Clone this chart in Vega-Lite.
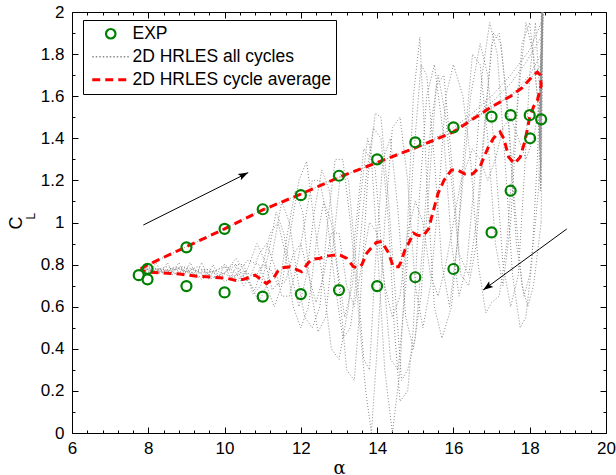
{
  "$schema": "https://vega.github.io/schema/vega-lite/v6.json",
  "width": 534,
  "height": 421,
  "autosize": "none",
  "padding": {"left": 72, "top": 12, "right": 10, "bottom": 42},
  "background": "white",
  "config": {
    "view": {"stroke": "black", "strokeWidth": 1},
    "font": "Liberation Sans",
    "axis": {
      "domain": false, "grid": false,
      "labelFont": "Liberation Sans", "labelFontSize": 17, "labelColor": "black",
      "tickColor": "black", "tickWidth": 1,
      "titleFont": "Liberation Sans", "titleFontSize": 18, "titleFontWeight": "normal", "titleColor": "black",
      "labelOverlap": false, "labelBound": false, "labelFlush": false
    }
  },
  "datasets": {
    "exp": [
      {"x":7.75,"y":0.75},{"x":7.98,"y":0.78},{"x":9,"y":0.882},{"x":10,"y":0.97},{"x":11,"y":1.063},{"x":12,"y":1.13},{"x":13,"y":1.222},{"x":14,"y":1.30},{"x":15,"y":1.381},{"x":16,"y":1.452},{"x":17,"y":1.503},{"x":17.5,"y":1.51},{"x":18,"y":1.51},{"x":18.3,"y":1.49},
      {"x":18.01,"y":1.40},{"x":17.5,"y":1.151},{"x":17,"y":0.953},{"x":16,"y":0.779},{"x":15,"y":0.74},{"x":14,"y":0.698},{"x":13,"y":0.679},{"x":12,"y":0.66},{"x":11,"y":0.648},{"x":10,"y":0.668},{"x":9,"y":0.698},{"x":7.98,"y":0.73}
    ],
    "avg": [
      {"x":7.8,"y":0.78},{"x":8,"y":0.8},{"x":9,"y":0.885},{"x":10,"y":0.97},{"x":11,"y":1.06},{"x":12,"y":1.135},{"x":13,"y":1.215},{"x":14,"y":1.285},{"x":15,"y":1.355},{"x":16,"y":1.43},{"x":16.5,"y":1.49},{"x":17,"y":1.55},{"x":17.5,"y":1.6},{"x":17.8,"y":1.64},{"x":18.05,"y":1.69},{"x":18.2,"y":1.715},{"x":18.28,"y":1.7},{"x":18.3,"y":1.65},{"x":18.2,"y":1.58},{"x":18.1,"y":1.55},{"x":18.0,"y":1.5},{"x":17.88,"y":1.39},{"x":17.75,"y":1.31},{"x":17.6,"y":1.28},{"x":17.45,"y":1.31},{"x":17.32,"y":1.4},{"x":17.22,"y":1.43},{"x":17.05,"y":1.4},{"x":16.92,"y":1.36},{"x":16.8,"y":1.31},{"x":16.7,"y":1.265},{"x":16.5,"y":1.23},{"x":16.3,"y":1.23},{"x":16.1,"y":1.25},{"x":15.95,"y":1.25},{"x":15.75,"y":1.2},{"x":15.6,"y":1.14},{"x":15.45,"y":1.04},{"x":15.35,"y":0.97},{"x":15.2,"y":0.935},{"x":15.05,"y":0.94},{"x":14.95,"y":0.95},{"x":14.85,"y":0.91},{"x":14.73,"y":0.87},{"x":14.62,"y":0.81},{"x":14.56,"y":0.79},{"x":14.42,"y":0.79},{"x":14.3,"y":0.855},{"x":14.12,"y":0.91},{"x":13.98,"y":0.905},{"x":13.85,"y":0.88},{"x":13.73,"y":0.855},{"x":13.6,"y":0.8},{"x":13.5,"y":0.785},{"x":13.38,"y":0.79},{"x":13.2,"y":0.83},{"x":13.03,"y":0.845},{"x":12.85,"y":0.845},{"x":12.68,"y":0.84},{"x":12.5,"y":0.83},{"x":12.3,"y":0.825},{"x":12.2,"y":0.81},{"x":12.02,"y":0.766},{"x":11.85,"y":0.78},{"x":11.72,"y":0.79},{"x":11.5,"y":0.785},{"x":11.4,"y":0.77},{"x":11.28,"y":0.735},{"x":11.1,"y":0.71},{"x":10.95,"y":0.73},{"x":10.8,"y":0.75},{"x":10.65,"y":0.74},{"x":10.5,"y":0.73},{"x":10.3,"y":0.725},{"x":10.06,"y":0.735},{"x":9.7,"y":0.74},{"x":9.27,"y":0.745},{"x":8.83,"y":0.755},{"x":8.39,"y":0.76},{"x":8.0,"y":0.765},{"x":7.85,"y":0.77},{"x":7.8,"y":0.78}
    ],
    "gray": [
      {"c":"U0","x":7.8,"y":0.78},{"c":"U0","x":8,"y":0.8},{"c":"U0","x":9,"y":0.885},{"c":"U0","x":10,"y":0.97},{"c":"U0","x":11,"y":1.06},{"c":"U0","x":12,"y":1.135},{"c":"U0","x":13,"y":1.215},{"c":"U0","x":14,"y":1.285},{"c":"U0","x":15,"y":1.355},{"c":"U0","x":16,"y":1.43},{"c":"U0","x":16.5,"y":1.49},{"c":"U0","x":17,"y":1.55},{"c":"U0","x":17.5,"y":1.6},{"c":"U0","x":17.8,"y":1.64},{"c":"U0","x":18.05,"y":1.69},{"c":"U0","x":18.3,"y":1.75},
      {"c":"U1","x":15.5,"y":1.4},{"c":"U1","x":16,"y":1.45},{"c":"U1","x":16.5,"y":1.52},{"c":"U1","x":17,"y":1.6},{"c":"U1","x":17.5,"y":1.7},{"c":"U1","x":18,"y":1.82},{"c":"U1","x":18.3,"y":1.95},
      {"c":"U2","x":16,"y":1.44},{"c":"U2","x":16.5,"y":1.5},{"c":"U2","x":17,"y":1.57},{"c":"U2","x":17.5,"y":1.66},{"c":"U2","x":17.9,"y":1.76},{"c":"U2","x":18.3,"y":1.88},
      {"c":"U3","x":16.3,"y":1.47},{"c":"U3","x":17,"y":1.54},{"c":"U3","x":17.6,"y":1.62},{"c":"U3","x":18,"y":1.7},{"c":"U3","x":18.3,"y":1.8},
      {"c":"V","x":18.24,"y":1.2},{"c":"V","x":18.32,"y":2.05},{"c":"V","x":18.27,"y":1.3},{"c":"V","x":18.35,"y":2.05},{"c":"V","x":18.25,"y":1.35},{"c":"V","x":18.31,"y":2.05},{"c":"V","x":18.28,"y":1.15},{"c":"V","x":18.36,"y":2.05},{"c":"V","x":18.26,"y":1.4},{"c":"V","x":18.33,"y":2.05},{"c":"V","x":18.29,"y":1.25},{"c":"V","x":18.34,"y":2.05},{"c":"V","x":18.3,"y":1.0},
      {"c":"H","x":7.9,"y":0.79},{"c":"H","x":8.05,"y":0.76},{"c":"H","x":8.2,"y":0.81},{"c":"H","x":8.35,"y":0.76},{"c":"H","x":8.5,"y":0.81},{"c":"H","x":8.65,"y":0.76},{"c":"H","x":8.8,"y":0.81},{"c":"H","x":8.95,"y":0.755},{"c":"H","x":9.1,"y":0.81},{"c":"H","x":9.25,"y":0.75},{"c":"H","x":9.4,"y":0.81},{"c":"H","x":9.55,"y":0.745},{"c":"H","x":9.7,"y":0.8},{"c":"H","x":9.85,"y":0.74},{"c":"H","x":10.0,"y":0.8},{"c":"H","x":10.15,"y":0.735},{"c":"H","x":10.3,"y":0.79},{"c":"H","x":10.45,"y":0.73},{"c":"H","x":10.6,"y":0.78},
      {"c":"L1","x":18.3,"y":1.8},{"c":"L1","x":18.2,"y":1.3},{"c":"L1","x":18.05,"y":0.8},{"c":"L1","x":17.9,"y":0.55},{"c":"L1","x":17.75,"y":0.5},{"c":"L1","x":17.55,"y":0.75},{"c":"L1","x":17.35,"y":1.3},{"c":"L1","x":17.15,"y":1.8},{"c":"L1","x":16.95,"y":1.95},{"c":"L1","x":16.75,"y":1.7},{"c":"L1","x":16.55,"y":1.2},{"c":"L1","x":16.35,"y":0.8},{"c":"L1","x":16.15,"y":0.65},{"c":"L1","x":15.95,"y":0.9},{"c":"L1","x":15.75,"y":1.4},{"c":"L1","x":15.5,"y":1.75},{"c":"L1","x":15.3,"y":1.6},{"c":"L1","x":15.1,"y":1.1},{"c":"L1","x":14.95,"y":0.5},{"c":"L1","x":14.8,"y":0.2},{"c":"L1","x":14.6,"y":0.15},{"c":"L1","x":14.45,"y":0.5},{"c":"L1","x":14.3,"y":1.0},{"c":"L1","x":14.1,"y":1.4},{"c":"L1","x":13.9,"y":1.45},{"c":"L1","x":13.7,"y":1.2},{"c":"L1","x":13.5,"y":0.8},{"c":"L1","x":13.3,"y":0.5},{"c":"L1","x":13.1,"y":0.45},{"c":"L1","x":12.9,"y":0.7},{"c":"L1","x":12.7,"y":1.0},{"c":"L1","x":12.5,"y":1.2},{"c":"L1","x":12.3,"y":1.2},{"c":"L1","x":12.1,"y":1.0},{"c":"L1","x":11.9,"y":0.8},{"c":"L1","x":11.7,"y":0.65},{"c":"L1","x":11.5,"y":0.65},{"c":"L1","x":11.3,"y":0.8},{"c":"L1","x":11.1,"y":0.9},{"c":"L1","x":10.9,"y":0.85},{"c":"L1","x":10.7,"y":0.75},{"c":"L1","x":10.5,"y":0.7},{"c":"L1","x":10.3,"y":0.76},{"c":"L1","x":10.0,"y":0.8},{"c":"L1","x":9.7,"y":0.76},{"c":"L1","x":9.4,"y":0.73},{"c":"L1","x":9.0,"y":0.78},{"c":"L1","x":8.6,"y":0.75},{"c":"L1","x":8.2,"y":0.78},{"c":"L1","x":7.8,"y":0.78},
      {"c":"L2","x":18.3,"y":1.5},{"c":"L2","x":18.15,"y":1.95},{"c":"L2","x":18.0,"y":1.7},{"c":"L2","x":17.85,"y":1.2},{"c":"L2","x":17.7,"y":0.75},{"c":"L2","x":17.5,"y":0.6},{"c":"L2","x":17.3,"y":0.8},{"c":"L2","x":17.1,"y":1.3},{"c":"L2","x":16.9,"y":1.7},{"c":"L2","x":16.7,"y":1.85},{"c":"L2","x":16.45,"y":1.6},{"c":"L2","x":16.2,"y":1.1},{"c":"L2","x":15.95,"y":0.6},{"c":"L2","x":15.7,"y":0.45},{"c":"L2","x":15.5,"y":0.6},{"c":"L2","x":15.3,"y":1.2},{"c":"L2","x":15.12,"y":1.88},{"c":"L2","x":14.95,"y":1.6},{"c":"L2","x":14.8,"y":1.0},{"c":"L2","x":14.6,"y":0.3},{"c":"L2","x":14.4,"y":0.0},{"c":"L2","x":14.2,"y":0.3},{"c":"L2","x":14.0,"y":0.9},{"c":"L2","x":13.85,"y":1.3},{"c":"L2","x":13.65,"y":1.35},{"c":"L2","x":13.45,"y":1.0},{"c":"L2","x":13.25,"y":0.6},{"c":"L2","x":13.0,"y":0.35},{"c":"L2","x":12.8,"y":0.4},{"c":"L2","x":12.6,"y":0.7},{"c":"L2","x":12.35,"y":1.0},{"c":"L2","x":12.15,"y":1.29},{"c":"L2","x":11.95,"y":1.2},{"c":"L2","x":11.72,"y":0.95},{"c":"L2","x":11.5,"y":0.7},{"c":"L2","x":11.3,"y":0.6},{"c":"L2","x":11.1,"y":0.7},{"c":"L2","x":10.9,"y":0.8},{"c":"L2","x":10.6,"y":0.82},{"c":"L2","x":10.3,"y":0.75},{"c":"L2","x":10.0,"y":0.72},{"c":"L2","x":9.6,"y":0.78},{"c":"L2","x":9.2,"y":0.75},{"c":"L2","x":8.8,"y":0.78},{"c":"L2","x":8.4,"y":0.76},{"c":"L2","x":8.0,"y":0.78},{"c":"L2","x":7.8,"y":0.78},
      {"c":"L3","x":18.3,"y":1.2},{"c":"L3","x":18.2,"y":1.6},{"c":"L3","x":18.0,"y":1.95},{"c":"L3","x":17.8,"y":1.85},{"c":"L3","x":17.6,"y":1.4},{"c":"L3","x":17.4,"y":0.9},{"c":"L3","x":17.2,"y":0.65},{"c":"L3","x":17.0,"y":0.62},{"c":"L3","x":16.85,"y":0.57},{"c":"L3","x":16.65,"y":0.8},{"c":"L3","x":16.45,"y":1.3},{"c":"L3","x":16.25,"y":1.6},{"c":"L3","x":16.0,"y":1.75},{"c":"L3","x":15.8,"y":1.6},{"c":"L3","x":15.6,"y":1.1},{"c":"L3","x":15.4,"y":0.7},{"c":"L3","x":15.2,"y":0.5},{"c":"L3","x":15.0,"y":0.7},{"c":"L3","x":14.8,"y":1.2},{"c":"L3","x":14.6,"y":1.5},{"c":"L3","x":14.4,"y":1.45},{"c":"L3","x":14.2,"y":1.0},{"c":"L3","x":14.0,"y":0.4},{"c":"L3","x":13.85,"y":0.0},{"c":"L3","x":13.7,"y":0.2},{"c":"L3","x":13.5,"y":0.6},{"c":"L3","x":13.3,"y":1.0},{"c":"L3","x":13.1,"y":1.3},{"c":"L3","x":12.9,"y":1.3},{"c":"L3","x":12.7,"y":1.0},{"c":"L3","x":12.5,"y":0.6},{"c":"L3","x":12.3,"y":0.5},{"c":"L3","x":12.1,"y":0.55},{"c":"L3","x":11.9,"y":0.75},{"c":"L3","x":11.7,"y":1.0},{"c":"L3","x":11.5,"y":1.1},{"c":"L3","x":11.3,"y":0.9},{"c":"L3","x":11.1,"y":0.7},{"c":"L3","x":10.9,"y":0.62},{"c":"L3","x":10.7,"y":0.7},{"c":"L3","x":10.5,"y":0.8},{"c":"L3","x":10.2,"y":0.8},{"c":"L3","x":9.9,"y":0.74},{"c":"L3","x":9.5,"y":0.78},{"c":"L3","x":9.1,"y":0.76},{"c":"L3","x":8.7,"y":0.79},{"c":"L3","x":8.3,"y":0.76},{"c":"L3","x":7.9,"y":0.78},
      {"c":"L4","x":18.3,"y":1.0},{"c":"L4","x":18.1,"y":0.7},{"c":"L4","x":17.95,"y":0.6},{"c":"L4","x":17.8,"y":0.7},{"c":"L4","x":17.6,"y":1.1},{"c":"L4","x":17.4,"y":1.6},{"c":"L4","x":17.2,"y":1.9},{"c":"L4","x":17.0,"y":1.85},{"c":"L4","x":16.8,"y":1.4},{"c":"L4","x":16.6,"y":0.9},{"c":"L4","x":16.4,"y":0.7},{"c":"L4","x":16.2,"y":0.75},{"c":"L4","x":16.0,"y":1.1},{"c":"L4","x":15.8,"y":1.5},{"c":"L4","x":15.6,"y":1.7},{"c":"L4","x":15.4,"y":1.45},{"c":"L4","x":15.2,"y":0.9},{"c":"L4","x":15.0,"y":0.45},{"c":"L4","x":14.8,"y":0.3},{"c":"L4","x":14.64,"y":0.25},{"c":"L4","x":14.5,"y":0.6},{"c":"L4","x":14.3,"y":1.1},{"c":"L4","x":14.1,"y":1.5},{"c":"L4","x":13.95,"y":1.52},{"c":"L4","x":13.75,"y":1.2},{"c":"L4","x":13.55,"y":0.6},{"c":"L4","x":13.4,"y":0.25},{"c":"L4","x":13.2,"y":0.3},{"c":"L4","x":13.0,"y":0.7},{"c":"L4","x":12.8,"y":1.0},{"c":"L4","x":12.6,"y":1.1},{"c":"L4","x":12.4,"y":0.9},{"c":"L4","x":12.2,"y":0.6},{"c":"L4","x":12.0,"y":0.5},{"c":"L4","x":11.8,"y":0.6},{"c":"L4","x":11.6,"y":0.85},{"c":"L4","x":11.4,"y":1.0},{"c":"L4","x":11.2,"y":0.95},{"c":"L4","x":11.0,"y":0.8},{"c":"L4","x":10.8,"y":0.68},{"c":"L4","x":10.6,"y":0.72},{"c":"L4","x":10.3,"y":0.8},{"c":"L4","x":10.0,"y":0.76},{"c":"L4","x":9.6,"y":0.73},{"c":"L4","x":9.2,"y":0.78},{"c":"L4","x":8.8,"y":0.75},{"c":"L4","x":8.4,"y":0.78},{"c":"L4","x":8.0,"y":0.76},{"c":"L4","x":7.8,"y":0.78},
      {"c":"L5","x":18.3,"y":1.6},{"c":"L5","x":18.1,"y":1.4},{"c":"L5","x":17.9,"y":1.3},{"c":"L5","x":17.7,"y":1.4},{"c":"L5","x":17.5,"y":1.5},{"c":"L5","x":17.3,"y":1.45},{"c":"L5","x":17.1,"y":1.3},{"c":"L5","x":16.9,"y":1.2},{"c":"L5","x":16.7,"y":1.3},{"c":"L5","x":16.5,"y":1.35},{"c":"L5","x":16.2,"y":1.2},{"c":"L5","x":16.0,"y":1.0},{"c":"L5","x":15.8,"y":0.8},{"c":"L5","x":15.6,"y":0.65},{"c":"L5","x":15.4,"y":0.75},{"c":"L5","x":15.2,"y":1.0},{"c":"L5","x":15.0,"y":1.1},{"c":"L5","x":14.8,"y":0.95},{"c":"L5","x":14.6,"y":0.65},{"c":"L5","x":14.4,"y":0.55},{"c":"L5","x":14.2,"y":0.7},{"c":"L5","x":14.0,"y":0.95},{"c":"L5","x":13.8,"y":1.0},{"c":"L5","x":13.6,"y":0.8},{"c":"L5","x":13.4,"y":0.6},{"c":"L5","x":13.2,"y":0.7},{"c":"L5","x":13.0,"y":0.95},{"c":"L5","x":12.8,"y":0.95},{"c":"L5","x":12.6,"y":0.75},{"c":"L5","x":12.4,"y":0.62},{"c":"L5","x":12.2,"y":0.75},{"c":"L5","x":12.0,"y":0.9},{"c":"L5","x":11.8,"y":0.85},{"c":"L5","x":11.6,"y":0.72},{"c":"L5","x":11.4,"y":0.7},{"c":"L5","x":11.2,"y":0.78},{"c":"L5","x":11.0,"y":0.8},{"c":"L5","x":10.8,"y":0.74},{"c":"L5","x":10.5,"y":0.77},{"c":"L5","x":10.2,"y":0.74},{"c":"L5","x":9.8,"y":0.77},{"c":"L5","x":9.4,"y":0.76},{"c":"L5","x":9.0,"y":0.79},{"c":"L5","x":8.5,"y":0.77},{"c":"L5","x":8.0,"y":0.79},
      {"c":"L6","x":18.3,"y":1.4},{"c":"L6","x":18.1,"y":1.8},{"c":"L6","x":17.9,"y":1.95},{"c":"L6","x":17.7,"y":1.6},{"c":"L6","x":17.5,"y":1.0},{"c":"L6","x":17.3,"y":0.7},{"c":"L6","x":17.1,"y":0.9},{"c":"L6","x":16.9,"y":1.4},{"c":"L6","x":16.7,"y":1.75},{"c":"L6","x":16.5,"y":1.8},{"c":"L6","x":16.3,"y":1.4},{"c":"L6","x":16.1,"y":0.9},{"c":"L6","x":15.9,"y":0.6},{"c":"L6","x":15.7,"y":0.8},{"c":"L6","x":15.5,"y":1.3},{"c":"L6","x":15.3,"y":1.7},{"c":"L6","x":15.15,"y":1.75},{"c":"L6","x":14.95,"y":1.3},{"c":"L6","x":14.75,"y":0.7},{"c":"L6","x":14.55,"y":0.3},{"c":"L6","x":14.35,"y":0.35},{"c":"L6","x":14.15,"y":0.8},{"c":"L6","x":13.95,"y":1.25},{"c":"L6","x":13.75,"y":1.4},{"c":"L6","x":13.55,"y":1.1},{"c":"L6","x":13.35,"y":0.7},{"c":"L6","x":13.15,"y":0.55},{"c":"L6","x":12.95,"y":0.8},{"c":"L6","x":12.75,"y":1.15},{"c":"L6","x":12.55,"y":1.25},{"c":"L6","x":12.35,"y":1.05},{"c":"L6","x":12.15,"y":0.75},{"c":"L6","x":11.95,"y":0.6},{"c":"L6","x":11.75,"y":0.75},{"c":"L6","x":11.55,"y":0.95},{"c":"L6","x":11.35,"y":1.05},{"c":"L6","x":11.15,"y":0.85},{"c":"L6","x":10.95,"y":0.7},{"c":"L6","x":10.75,"y":0.66},{"c":"L6","x":10.55,"y":0.76},{"c":"L6","x":10.3,"y":0.83},{"c":"L6","x":10.0,"y":0.76},{"c":"L6","x":9.7,"y":0.74},{"c":"L6","x":9.3,"y":0.79},{"c":"L6","x":8.9,"y":0.76},{"c":"L6","x":8.5,"y":0.79},{"c":"L6","x":8.1,"y":0.77},{"c":"L6","x":7.8,"y":0.78},
      {"c":"L7","x":18.3,"y":1.3},{"c":"L7","x":18.15,"y":1.0},{"c":"L7","x":18.0,"y":0.75},{"c":"L7","x":17.85,"y":0.65},{"c":"L7","x":17.65,"y":0.9},{"c":"L7","x":17.45,"y":1.45},{"c":"L7","x":17.25,"y":1.85},{"c":"L7","x":17.05,"y":1.9},{"c":"L7","x":16.85,"y":1.55},{"c":"L7","x":16.6,"y":1.0},{"c":"L7","x":16.4,"y":0.75},{"c":"L7","x":16.15,"y":0.85},{"c":"L7","x":15.95,"y":1.3},{"c":"L7","x":15.75,"y":1.7},{"c":"L7","x":15.55,"y":1.65},{"c":"L7","x":15.35,"y":1.15},{"c":"L7","x":15.15,"y":0.65},{"c":"L7","x":14.95,"y":0.4},{"c":"L7","x":14.75,"y":0.55},{"c":"L7","x":14.55,"y":1.05},{"c":"L7","x":14.35,"y":1.4},{"c":"L7","x":14.15,"y":1.3},{"c":"L7","x":13.95,"y":0.8},{"c":"L7","x":13.8,"y":0.3},{"c":"L7","x":13.65,"y":0.35},{"c":"L7","x":13.45,"y":0.8},{"c":"L7","x":13.25,"y":1.2},{"c":"L7","x":13.05,"y":1.25},{"c":"L7","x":12.85,"y":0.9},{"c":"L7","x":12.65,"y":0.55},{"c":"L7","x":12.45,"y":0.48},{"c":"L7","x":12.25,"y":0.7},{"c":"L7","x":12.05,"y":1.05},{"c":"L7","x":11.85,"y":1.15},{"c":"L7","x":11.65,"y":0.95},{"c":"L7","x":11.45,"y":0.72},{"c":"L7","x":11.25,"y":0.68},{"c":"L7","x":11.05,"y":0.82},{"c":"L7","x":10.85,"y":0.9},{"c":"L7","x":10.6,"y":0.78},{"c":"L7","x":10.35,"y":0.72},{"c":"L7","x":10.05,"y":0.79},{"c":"L7","x":9.7,"y":0.77},{"c":"L7","x":9.3,"y":0.74},{"c":"L7","x":8.9,"y":0.79},{"c":"L7","x":8.4,"y":0.77},{"c":"L7","x":7.9,"y":0.79}
    ],
    "arrows": [
      {"a":1,"p":"tail","x":7.87,"y":0.988},{"a":1,"p":"head","x":10.62,"y":1.237},
      {"a":2,"p":"tail","x":18.97,"y":0.969},{"a":2,"p":"head","x":16.78,"y":0.679}
    ]
  },
  "layer": [
    {
      "data": {"name": "gray"},
      "mark": {"type": "line", "strokeDash": [1, 2], "strokeWidth": 1, "clip": true},
      "encoding": {
        "x": {"field": "x", "type": "quantitative", "scale": {"domain": [6, 20], "nice": false, "zero": false},
          "axis": {"orient": "bottom", "values": [6,6.4,6.8,7.2,7.6,8,8.4,8.8,9.2,9.6,10,10.4,10.8,11.2,11.6,12,12.4,12.8,13.2,13.6,14,14.4,14.8,15.2,15.6,16,16.4,16.8,17.2,17.6,18,18.4,18.8,19.2,19.6,20],
            "format": ".1~f",
            "labelExpr": "abs(datum.value/2 - round(datum.value/2)) < 0.01 ? datum.label : ''",
            "tickSize": {"condition": {"test": "abs(datum.value/2 - round(datum.value/2)) < 0.01", "value": -6}, "value": -3},
            "labelPadding": 13,
            "title": "α", "titleFont": "DejaVu Serif", "titleFontSize": 18, "titlePadding": 0}},
        "y": {"field": "y", "type": "quantitative", "scale": {"domain": [0, 2], "nice": false, "zero": false},
          "axis": {"orient": "left", "values": [0,0.1,0.2,0.3,0.4,0.5,0.6,0.7,0.8,0.9,1,1.1,1.2,1.3,1.4,1.5,1.6,1.7,1.8,1.9,2],
            "format": ".2~f",
            "labelExpr": "abs(datum.value*5 - round(datum.value*5)) < 0.01 ? datum.label : ''",
            "tickSize": {"condition": {"test": "abs(datum.value*5 - round(datum.value*5)) < 0.01", "value": -6}, "value": -3},
            "labelPadding": 14,
            "title": "C", "titlePadding": 15}},
        "detail": {"field": "c"},
        "order": {"value": null},
        "color": {"datum": "2D HRLES all cycles", "type": "nominal",
          "scale": {"domain": ["EXP", "2D HRLES all cycles", "2D HRLES cycle average"], "range": ["#008000", "#8a8a8a", "#ff0000"]},
          "legend": {"title": null, "orient": "none", "legendX": 11, "legendY": 8,
            "strokeColor": "black", "fillColor": "white", "padding": 5,
            "labelFont": "Liberation Sans", "labelFontSize": 17.5, "labelColor": "black", "labelLimit": 400,
            "symbolType": "stroke", "symbolSize": 100, "symbolOffset": 14, "labelOffset": 13, "rowPadding": 4,
            "encode": {"symbols": {"update": {
              "shape": {"signal": "datum.value === 'EXP' ? 'circle' : 'stroke'"},
              "size": {"signal": "datum.value === 'EXP' ? 90 : 1369"},
              "strokeDash": {"signal": "datum.value === 'EXP' ? [] : (datum.value === '2D HRLES all cycles' ? [1.5, 2] : [8, 5])"},
              "strokeWidth": {"signal": "datum.value === '2D HRLES all cycles' ? 1.5 : (datum.value === 'EXP' ? 2.2 : 3)"},
              "fill": {"value": "transparent"},
              "opacity": {"value": 1}
            }}}}}
      }
    },
    {
      "data": {"name": "avg"},
      "mark": {"type": "line", "strokeDash": [8, 5], "strokeWidth": 3, "clip": true},
      "encoding": {
        "x": {"field": "x", "type": "quantitative", "axis": null},
        "y": {"field": "y", "type": "quantitative", "axis": null},
        "order": {"value": null},
        "color": {"datum": "2D HRLES cycle average", "type": "nominal"}
      }
    },
    {
      "data": {"name": "exp"},
      "mark": {"type": "point", "shape": "circle", "filled": false, "size": 100, "strokeWidth": 2.2, "opacity": 1},
      "encoding": {
        "x": {"field": "x", "type": "quantitative", "axis": null},
        "y": {"field": "y", "type": "quantitative", "axis": null},
        "color": {"datum": "EXP", "type": "nominal"}
      }
    },
    {
      "data": {"name": "arrows"},
      "mark": {"type": "line", "color": "black", "strokeWidth": 1},
      "encoding": {
        "x": {"field": "x", "type": "quantitative",
          "axis": {"orient": "top", "labels": false, "title": null,
            "values": [6,6.4,6.8,7.2,7.6,8,8.4,8.8,9.2,9.6,10,10.4,10.8,11.2,11.6,12,12.4,12.8,13.2,13.6,14,14.4,14.8,15.2,15.6,16,16.4,16.8,17.2,17.6,18,18.4,18.8,19.2,19.6,20],
            "tickSize": {"condition": {"test": "abs(datum.value/2 - round(datum.value/2)) < 0.01", "value": -6}, "value": -3}}},
        "y": {"field": "y", "type": "quantitative",
          "axis": {"orient": "right", "labels": false, "title": null,
            "values": [0,0.1,0.2,0.3,0.4,0.5,0.6,0.7,0.8,0.9,1,1.1,1.2,1.3,1.4,1.5,1.6,1.7,1.8,1.9,2],
            "tickSize": {"condition": {"test": "abs(datum.value*5 - round(datum.value*5)) < 0.01", "value": -6}, "value": -3}}},
        "detail": {"field": "a"}
      }
    },
    {
      "data": {"name": "arrows"},
      "transform": [{"filter": "datum.p === 'head'"}],
      "mark": {"type": "point", "shape": "M0,0L0.35,1L0,0.8L-0.35,1Z", "filled": true, "color": "black", "size": 400, "opacity": 1, "strokeWidth": 0},
      "encoding": {
        "x": {"field": "x", "type": "quantitative", "axis": null},
        "y": {"field": "y", "type": "quantitative", "axis": null},
        "angle": {"condition": {"test": "datum.a === 1", "value": 63.5}, "value": 233.8}
      }
    },
    {
      "data": {"values": [{"t": "L"}]},
      "mark": {"type": "text", "angle": 270, "fontSize": 12, "font": "Liberation Sans", "color": "black", "dy": -41, "clip": false},
      "encoding": {
        "text": {"field": "t"},
        "x": {"datum": 6, "type": "quantitative", "axis": null},
        "y": {"datum": 1.03, "type": "quantitative", "axis": null}
      }
    }
  ],
  "resolve": {"axis": {"x": "independent", "y": "independent"}}
}
